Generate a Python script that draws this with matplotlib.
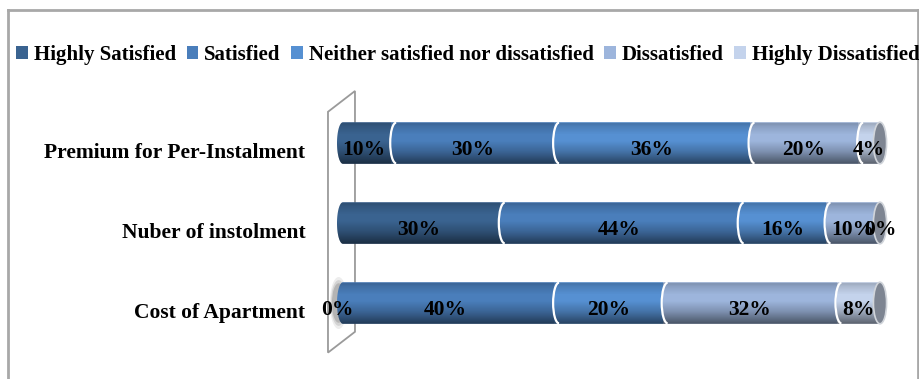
import numpy as np
import matplotlib
matplotlib.use("Agg")
import matplotlib.pyplot as plt
from matplotlib.patches import Rectangle, Ellipse, Arc, PathPatch, Polygon
from matplotlib.path import Path
from matplotlib.lines import Line2D

plt.rcParams['font.family'] = ['Liberation Serif', 'DejaVu Serif']
plt.rcParams['font.weight'] = 'bold'

# Survey results (percent of respondents)
categories = ["Cost of Apartment", "Nuber of instolment", "Premium for Per-Instalment"]
series = ["Highly Satisfied", "Satisfied", "Neither satisfied nor dissatisfied",
          "Dissatisfied", "Highly Dissatisfied"]
highly_satisfied = [0, 30, 10]
satisfied = [40, 44, 30]
neither = [20, 16, 36]
dissatisfied = [32, 10, 20]
highly_dissatisfied = [8, 0, 4]

values = [highly_satisfied, satisfied, neither, dissatisfied, highly_dissatisfied]
colors = ['#3A6390', '#4A7EBB', '#5690D2', '#9DB5DC', '#C4D3EC']

W, H = 920, 379
fig = plt.figure(figsize=(W / 100, H / 100), dpi=100)

# axes placed in pixel terms
px_left, px_right, px_top, px_bot = 310, 905, 80, 372
ax = fig.add_axes([px_left / W, 1 - px_bot / H, (px_right - px_left) / W, (px_bot - px_top) / H])
x0_px, scale = 337.0, 5.43          # pixel of 0 %, pixels per percent
row_px, row_step = 303.0, 80.0       # pixel of first bar centre, spacing
ax.set_xlim((px_left - x0_px) / scale, (px_right - x0_px) / scale)
ax.set_ylim((row_px - px_bot) / row_step, (row_px - px_top) / row_step)
for s in ax.spines.values():
    s.set_visible(False)
ax.set_xticks([])

ypos = np.arange(len(categories))
bar_h = 0.52
rx = 1.1      # end-cap half width in percent units
label_dy = -0.09

# back wall of the 3D plot
wall = Polygon([(-1.66, 2.39), (3.31, 2.65), (3.31, -0.36), (-1.66, -0.62)],
               closed=True, facecolor='white', edgecolor='#9A9A9A', lw=1.3, zorder=1)
ax.add_patch(wall)

ax.set_yticks(ypos + label_dy)
ax.set_yticklabels(categories, fontsize=15.5, fontweight='bold')
ax.tick_params(axis='y', length=0, pad=3.5)

# shading profile for the cylinder look (bottom -> top)
t = np.linspace(0, 1, 200)
shade = np.zeros((200, 1, 4))
dark = np.interp(t, [0, 0.08, 0.3, 0.55, 0.7, 0.9, 0.97, 1.0],
                 [0.55, 0.45, 0.2, 0.0, 0.0, 0.12, 0.2, 0.0])
shade[:, 0, 3] = dark
shade = shade[::-1]

for i, y in enumerate(ypos):
    total = sum(v[i] for v in values)
    # outline of the cylinder body (rounded left end)
    th = np.linspace(np.pi / 2, 3 * np.pi / 2, 40)
    ex = rx + rx * np.cos(th)
    ey = y + bar_h / 2 * np.sin(th)
    verts = list(zip(ex, ey)) + [(total, y - bar_h / 2), (total, y + bar_h / 2), (ex[0], ey[0])]
    body = Path(verts, closed=True)
    clip = PathPatch(body, transform=ax.transData, facecolor='none', edgecolor='none')
    ax.add_patch(clip)

    left = 0
    bounds = []
    for k, v in enumerate(values):
        b = ax.barh(y, v[i], left=left, height=bar_h, color=colors[k],
                    edgecolor='none', zorder=2)
        for p in b.patches:
            p.set_clip_path(clip)
        ax.text(left + v[i] / 2, y + label_dy, f"{v[i]}%", ha='center', va='center',
                fontsize=15.5, fontweight='bold', color='black', zorder=6)
        left += v[i]
        bounds.append(left)

    im = ax.imshow(shade, extent=[0, total, y - bar_h / 2, y + bar_h / 2],
                   aspect='auto', zorder=3, interpolation='bilinear')
    im.set_clip_path(clip)

    # white seams between segments
    for b in bounds[:-1]:
        if 0 < b < total:
            ax.add_patch(Arc((b + 0.9, y), 2 * rx, bar_h * 0.98, theta1=90, theta2=270,
                             color='white', lw=1.6, zorder=4))

    # right end cap
    ax.add_patch(Ellipse((total, y), 2 * rx * 1.1, bar_h, facecolor='#7E8592',
                         edgecolor='#D0D4DA', lw=1.2, zorder=5))

    # soft shading where a zero-width first segment sits
    if values[0][i] == 0:
        for grow, a in [(1.25, 0.12), (1.1, 0.2), (0.95, 0.3)]:
            ax.add_patch(Ellipse((0.3, y), 2.6 * grow, bar_h * grow, facecolor='#6E6E6E',
                                 edgecolor='none', alpha=a, zorder=1.5))

# legend across the top
handles = [Rectangle((0, 0), 1, 1, facecolor=c, edgecolor='none') for c in colors]
fig.legend(handles, series, loc='center', bbox_to_anchor=(468 / W, 1 - 55 / H),
           ncol=5, frameon=False, handlelength=0.55, handleheight=0.55,
           handletextpad=0.3, columnspacing=0.5, prop={'weight': 'bold', 'size': 15})

# chart area border (left, top, right)
border = dict(color='#A8A8A8', lw=2.0, transform=fig.transFigure)
fig.add_artist(Line2D([8 / W, 8 / W], [0, 1 - 10 / H], **border))
fig.add_artist(Line2D([8 / W, 918 / W], [1 - 10 / H, 1 - 10 / H], **border))
fig.add_artist(Line2D([918 / W, 918 / W], [0, 1 - 10 / H], **border))

fig.savefig("out.png", dpi=100)
